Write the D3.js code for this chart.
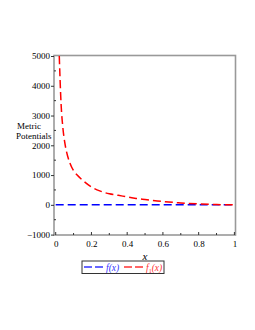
<!DOCTYPE html>
<html><head><meta charset="utf-8">
<script src="https://cdn.jsdelivr.net/npm/d3@7"></script>
<style>html,body{margin:0;padding:0;background:#fff;}svg{display:block;}</style>
</head><body>
<script>
// data
const xs  = [0.02, 0.03, 0.04, 0.05, 0.06, 0.08, 0.10, 0.12, 0.15, 0.20, 0.25, 0.30, 0.35, 0.40, 0.45, 0.50, 0.60, 0.70, 0.80, 0.90, 1.00];
const f1  = [5000, 3400, 2600, 2120, 1800, 1400, 1150, 1000, 830, 600, 460, 370, 320, 265, 215, 180, 110, 65, 30, 10, 0];
const fx  = [0, 1];
const f0  = [0, 0];
const xTicks = [0, 0.2, 0.4, 0.6, 0.8, 1];
const xTickLabels = ["0", "0.2", "0.4", "0.6", "0.8", "1"];
const yTicks = [-1000, 0, 1000, 2000, 3000, 4000, 5000];
const yTickLabels = ["\u22121000", "0", "1000", "2000", "3000", "4000", "5000"];

const W = 255, H = 330;
const svg = d3.select("body").append("svg").attr("width", W).attr("height", H);
const x = d3.scaleLinear().domain([0, 1]).range([55.7, 234.4]);
const y = d3.scaleLinear().domain([-1000, 5000]).range([234.6, 56]);
const font = "'Liberation Serif','Times New Roman',serif";

// clip
svg.append("clipPath").attr("id", "c").append("rect")
  .attr("x", 54).attr("y", 55).attr("width", 182).attr("height", 180);

// frame
svg.append("rect").attr("x", 54).attr("y", 55.5).attr("width", 181.5).attr("height", 179.5)
  .attr("fill", "none").attr("stroke", "#999").attr("stroke-width", 1.6);

// y axis
const yAx = d3.axisLeft(y).tickValues(yTicks).tickSize(3).tickPadding(1)
  .tickFormat((d, i) => yTickLabels[i]);
const gy = svg.append("g").attr("transform", "translate(54,0)").call(yAx);
gy.select(".domain").remove();
gy.selectAll("text").attr("font-family", font).attr("font-size", 9).attr("fill", "#000");
gy.selectAll("line").attr("stroke", "#333");
const yMinor = d3.range(-500, 5000, 1000);
svg.append("g").selectAll("line").data(yMinor).join("line")
  .attr("x1", 54).attr("x2", 56).attr("y1", d => y(d)).attr("y2", d => y(d)).attr("stroke", "#333");

// x axis (ticks inward)
const gx = svg.append("g").attr("transform", "translate(0,235)")
  .call(d3.axisBottom(x).tickValues(xTicks).tickSize(0).tickPadding(6)
  .tickFormat((d, i) => xTickLabels[i]));
gx.select(".domain").remove();
gx.selectAll("text").attr("font-family", font).attr("font-size", 9).attr("fill", "#000");
svg.append("g").selectAll("line").data(xTicks).join("line")
  .attr("x1", d => x(d)).attr("x2", d => x(d)).attr("y1", 235).attr("y2", 232).attr("stroke", "#333");
const xMinor = [0.1, 0.3, 0.5, 0.7, 0.9];
svg.append("g").selectAll("line").data(xMinor).join("line")
  .attr("x1", d => x(d)).attr("x2", d => x(d)).attr("y1", 235).attr("y2", 233).attr("stroke", "#333");

// axis labels
svg.append("text").attr("x", 145).attr("y", 260).attr("text-anchor", "middle")
  .attr("font-family", font).attr("font-style", "italic").attr("font-size", 11).text("x");
const yl = svg.append("text").attr("font-family", font).attr("font-size", 9);
yl.append("tspan").attr("x", 17).attr("y", 129).text("Metric");
yl.append("tspan").attr("x", 16).attr("y", 139).text("Potentials");

// lines
const line = d3.line().x(d => x(d[0])).y(d => y(d[1])).curve(d3.curveMonotoneX);
svg.append("path").datum(fx.map((v, i) => [v, f0[i]])).attr("d", line)
  .attr("fill", "none").attr("stroke", "#0000ff").attr("stroke-width", 1.5)
  .attr("stroke-dasharray", "8,4").attr("clip-path", "url(#c)");
svg.append("path").datum(xs.map((v, i) => [v, f1[i]])).attr("d", line)
  .attr("fill", "none").attr("stroke", "#ff0000").attr("stroke-width", 1.5)
  .attr("stroke-dasharray", "8,4").attr("clip-path", "url(#c)");

// legend
const lg = svg.append("g");
lg.append("rect").attr("x", 82).attr("y", 261).attr("width", 82).attr("height", 12.5)
  .attr("fill", "#fff").attr("stroke", "#333").attr("stroke-width", 1);
lg.append("line").attr("x1", 84).attr("x2", 105).attr("y1", 267).attr("y2", 267)
  .attr("stroke", "#3333ff").attr("stroke-width", 1.5).attr("stroke-dasharray", "8,3");
lg.append("text").attr("x", 106).attr("y", 270.5).attr("font-family", font).attr("font-style", "italic")
  .attr("font-size", 9.5).attr("fill", "#3333ff").text("f(x)");
lg.append("line").attr("x1", 124).attr("x2", 145).attr("y1", 267).attr("y2", 267)
  .attr("stroke", "#ff3333").attr("stroke-width", 1.5).attr("stroke-dasharray", "8,3");
const t2 = lg.append("text").attr("x", 146).attr("y", 270.5).attr("font-family", font).attr("font-style", "italic")
  .attr("font-size", 9.5).attr("fill", "#ff3333");
t2.append("tspan").text("f");
t2.append("tspan").attr("font-size", 6).attr("dy", 2).attr("font-style", "normal").text("1");
t2.append("tspan").attr("dy", -2).text("(x)");
</script>
</body></html>
